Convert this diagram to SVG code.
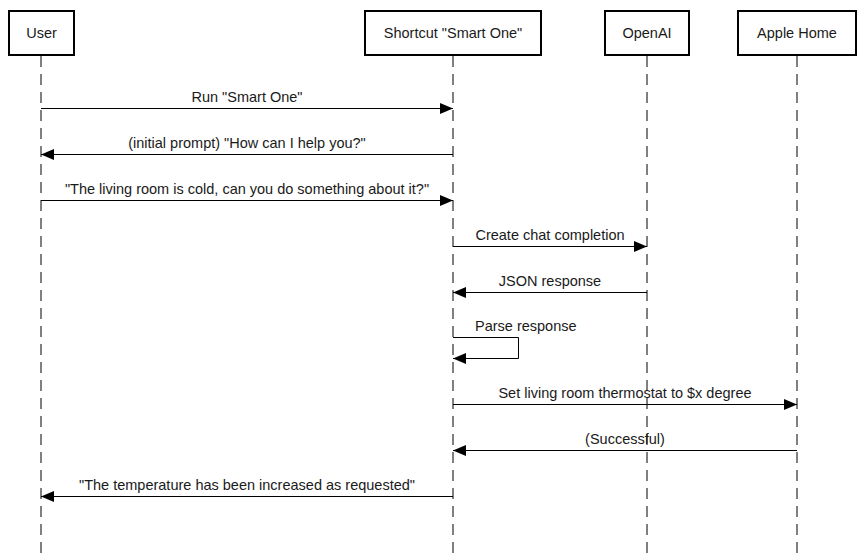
<svg xmlns="http://www.w3.org/2000/svg" width="863" height="553" viewBox="0 0 863 553">
<style>
  .box { fill: #ffffff; stroke: #000000; stroke-width: 2; }
  .life { stroke: #000000; stroke-width: 1; stroke-dasharray: 11 7; fill: none; }
  .msg { stroke: #000000; stroke-width: 1; fill: none; }
  .lbl { font-family: "Liberation Sans", Arial, sans-serif; font-size: 14.5px; fill: #1a1a1a; }
  .c { text-anchor: middle; }
</style>
<defs>
  <marker id="arrow" viewBox="0 0 13 11" refX="13" refY="5.5" markerWidth="13" markerHeight="11" markerUnits="userSpaceOnUse" orient="auto">
    <path d="M0,0 L13,5.5 L0,11 Z" fill="#000000"/>
  </marker>
</defs>
<rect width="863" height="553" fill="#ffffff"/>

<g id="lifelines">
  <line class="life" x1="41" y1="56" x2="41" y2="553"/>
  <line class="life" x1="453" y1="56" x2="453" y2="553"/>
  <line class="life" x1="647" y1="56" x2="647" y2="553"/>
  <line class="life" x1="797" y1="56" x2="797" y2="553"/>
</g>

<g id="node-user">
  <rect class="box" x="9" y="11" width="65" height="44"/>
  <text class="lbl c" x="41.5" y="38">User</text>
</g>
<g id="node-shortcut">
  <rect class="box" x="365" y="11" width="176" height="44"/>
  <text class="lbl c" x="453" y="38">Shortcut "Smart One"</text>
</g>
<g id="node-openai">
  <rect class="box" x="605" y="11" width="84" height="44"/>
  <text class="lbl c" x="647" y="38">OpenAI</text>
</g>
<g id="node-applehome">
  <rect class="box" x="738" y="11" width="118" height="44"/>
  <text class="lbl c" x="797" y="38">Apple Home</text>
</g>

<g id="connectors">
  <line class="msg" x1="41" y1="108.5" x2="453" y2="108.5" marker-end="url(#arrow)"/>
  <text class="lbl c" x="247" y="102">Run "Smart One"</text>

  <line class="msg" x1="453" y1="154.5" x2="41" y2="154.5" marker-end="url(#arrow)"/>
  <text class="lbl c" x="247" y="148">(initial prompt) "How can I help you?"</text>

  <line class="msg" x1="41" y1="200.5" x2="453" y2="200.5" marker-end="url(#arrow)"/>
  <text class="lbl c" x="247" y="194">"The living room is cold, can you do something about it?"</text>

  <line class="msg" x1="453" y1="246.5" x2="647" y2="246.5" marker-end="url(#arrow)"/>
  <text class="lbl c" x="550" y="240">Create chat completion</text>

  <line class="msg" x1="647" y1="292.5" x2="453" y2="292.5" marker-end="url(#arrow)"/>
  <text class="lbl c" x="550" y="286">JSON response</text>

  <path class="msg" d="M453,337.5 H518.5 V358.5 H453" marker-end="url(#arrow)"/>
  <text class="lbl" x="475" y="331">Parse response</text>

  <line class="msg" x1="453" y1="404.5" x2="797" y2="404.5" marker-end="url(#arrow)"/>
  <text class="lbl c" x="625" y="398">Set living room thermostat to $x degree</text>

  <line class="msg" x1="797" y1="450.5" x2="453" y2="450.5" marker-end="url(#arrow)"/>
  <text class="lbl c" x="625" y="444">(Successful)</text>

  <line class="msg" x1="453" y1="496.5" x2="41" y2="496.5" marker-end="url(#arrow)"/>
  <text class="lbl c" x="247" y="490">"The temperature has been increased as requested"</text>
</g>
</svg>
